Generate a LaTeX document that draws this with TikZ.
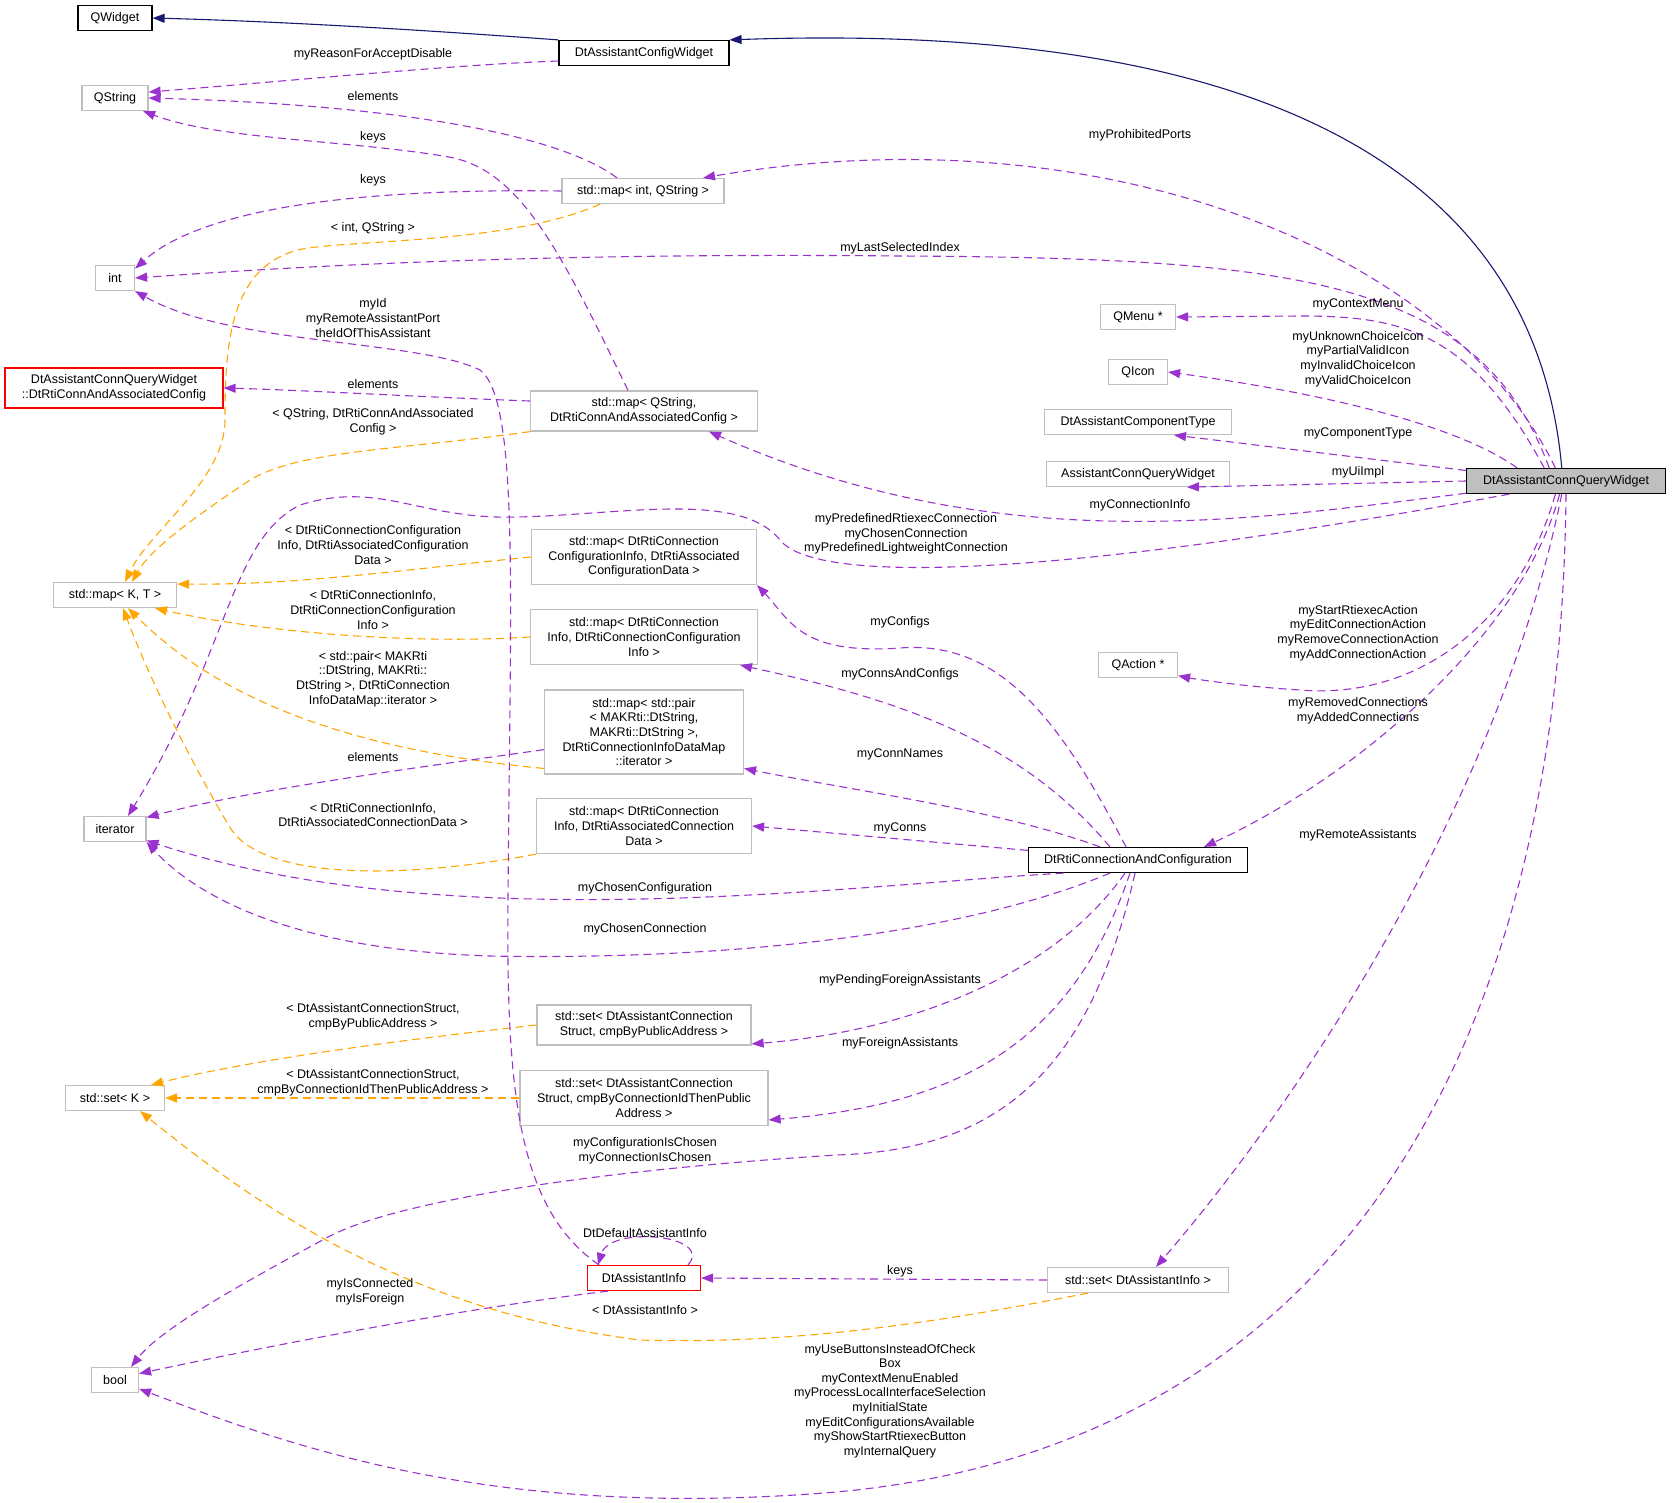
\documentclass[tikz,border=0pt]{standalone}
\usepackage{fontspec}
\setmainfont{Liberation Sans}
\usetikzlibrary{arrows.meta}
\definecolor{memcol}{RGB}{154,50,205}
\definecolor{tplcol}{RGB}{255,165,0}
\definecolor{inhcol}{RGB}{25,25,112}
\definecolor{boxgray}{RGB}{191,191,191}
\begin{document}
\begin{tikzpicture}[
    x=1pt,y=-1pt,
    >={Triangle[length=12pt,width=9pt]},
    every node/.style={font=\fontsize{12.5}{14.6}\selectfont},
    cls/.style={rectangle,draw=boxgray,line width=1.2pt,fill=white,inner sep=2pt,minimum height=25pt,align=center},
    doc/.style={cls,draw=black},
    bad/.style={cls,draw=red},
    lbl/.style={align=center,inner sep=0},
    mem/.style={->,draw=memcol,line width=1.1pt,dash pattern=on 8pt off 5pt},
    tpl/.style={->,draw=tplcol,line width=1.1pt,dash pattern=on 8pt off 5pt},
    inh/.style={->,draw=inhcol,line width=1.1pt}
    ]
    \useasboundingbox (0,0) rectangle (1672,1502);

    % classes
    \node[doc,minimum width=74pt] (qwidget) at (115,18) {QWidget};
    \node[doc,minimum width=170pt] (cfgwidget) at (644,53) {DtAssistantConfigWidget};
    \node[cls,minimum width=66pt] (qstring) at (115,98) {QString};
    \node[cls,minimum width=162pt] (mapint) at (643,191) {std::map< int, QString >};
    \node[cls,minimum width=39pt] (int) at (115,278) {int};
    \node[bad,minimum width=218pt,minimum height=40pt] (connassoc) at (114,388) {DtAssistantConnQueryWidget\\::DtRtiConnAndAssociatedConfig};
    \node[cls,minimum width=227pt,minimum height=40pt] (mapqs) at (644,411) {std::map< QString,\\DtRtiConnAndAssociatedConfig >};
    \node[cls,minimum width=123pt] (mapkt) at (115,595) {std::map< K, T >};
    \node[cls,minimum width=225pt,minimum height=55pt] (mapcfg) at (644,557) {std::map< DtRtiConnection\\ConfigurationInfo, DtRtiAssociated\\ConfigurationData >};
    \node[cls,minimum width=227pt,minimum height=55pt] (mapinfo) at (644,637) {std::map< DtRtiConnection\\Info, DtRtiConnectionConfiguration\\Info >};
    \node[cls,minimum width=199pt,minimum height=84pt] (mappair) at (644,732) {std::map< std::pair\\< MAKRti::DtString,\\MAKRti::DtString >,\\DtRtiConnectionInfoDataMap\\::iterator >};
    \node[cls,minimum width=215pt,minimum height=55pt] (mapconns) at (644,826) {std::map< DtRtiConnection\\Info, DtRtiAssociatedConnection\\Data >};
    \node[cls,minimum width=62pt] (iterator) at (115,829) {iterator};
    \node[cls,minimum width=214pt,minimum height=40pt] (setpub) at (644,1025) {std::set< DtAssistantConnection\\Struct, cmpByPublicAddress >};
    \node[cls,minimum width=99pt] (setk) at (115,1098) {std::set< K >};
    \node[cls,minimum width=248pt,minimum height=55pt] (setid) at (644,1098) {std::set< DtAssistantConnection\\Struct, cmpByConnectionIdThenPublic\\Address >};
    \node[bad,minimum width=113pt] (assist) at (644,1278) {DtAssistantInfo};
    \node[cls,minimum width=47pt] (bool) at (115,1380) {bool};
    \node[cls,minimum width=75pt] (qmenu) at (1138,317) {QMenu *};
    \node[cls,minimum width=59pt] (qicon) at (1138,372) {QIcon};
    \node[cls,minimum width=187pt] (comptype) at (1138,422) {DtAssistantComponentType};
    \node[cls,minimum width=183pt] (uiimpl) at (1138,474) {AssistantConnQueryWidget};
    \node[doc,fill=boxgray,minimum width=199pt] (main) at (1566,481) {DtAssistantConnQueryWidget};
    \node[cls,minimum width=79pt] (qaction) at (1138,665) {QAction *};
    \node[doc,minimum width=219pt] (rticonf) at (1138,860) {DtRtiConnectionAndConfiguration};
    \node[cls,minimum width=181pt] (setinfo) at (1138,1280) {std::set< DtAssistantInfo >};

    % inheritance
    \draw[inh] (main.108) .. controls (1530,110) and (1150,25) .. (cfgwidget.north east);
    \draw[inh] (cfgwidget.north west) .. controls (450,32) and (300,22) .. (qwidget.east);

    % members of the widget
    \draw[mem] ([yshift=-8pt]cfgwidget.west) .. controls (450,65) and (300,80) .. (qstring.10);
    \draw[mem] (main.129) .. controls (1450,250) and (1100,110) .. ([xshift=60pt]mapint.north);
    \draw[mem] (main.142) .. controls (1480,280) and (1300,258) .. (900,256) .. controls (500,252) and (250,270) .. (int.east);
    \draw[mem] (main.149) .. controls (1470,330) and (1400,316) .. (1300,316) -- (qmenu.east);
    \draw[mem] (main.165) .. controls (1450,420) and (1300,390) .. (qicon.east);
    \draw[mem] (main.174) -- (comptype.-20);
    \draw[mem] (main.180) -- (uiimpl.-15);
    \draw[mem] (main.187) .. controls (1250,520) and (1000,560) .. ([xshift=65pt]mapqs.south);
    \draw[mem] (main.193) .. controls (1100,570) and (820,590) .. (780,540) .. controls (740,490) and (620,515) .. (517,517) .. controls (420,520) and (380,480) .. (300,505) .. controls (230,540) and (230,650) .. ([xshift=13pt]iterator.north);
    \draw[mem] (main.231) .. controls (1520,620) and (1420,700) .. (1300,690) .. controls (1250,687) and (1200,680) .. (qaction.-15);
    \draw[mem] (main.244) .. controls (1520,640) and (1350,780) .. ([xshift=66pt]rticonf.north);
    \draw[mem] (main.252) .. controls (1500,800) and (1300,1100) .. ([xshift=18pt]setinfo.north);
    \draw[mem] (main.270) .. controls (1560,1100) and (1300,1450) .. (836,1492) .. controls (500,1520) and (300,1450) .. (bool.-20);

    % members of the maps
    \draw[mem] ([xshift=-26pt]mapint.north) .. controls (560,135) and (400,105) .. (qstring.east);
    \draw[mem] (mapint.west) .. controls (350,188) and (200,210) .. (int.25);
    \draw[tpl] ([xshift=-43pt]mapint.south) .. controls (520,240) and (380,240) .. (316,247) .. controls (230,255) and (225,340) .. (225,420) .. controls (225,480) and (150,530) .. ([xshift=10pt]mapkt.north);
    \draw[mem] ([xshift=-16pt]mapqs.north) .. controls (560,250) and (520,170) .. (449,157) .. controls (350,140) and (220,140) .. (qstring.-25);
    \draw[mem] (mapqs.175) .. controls (400,396) and (300,390) .. (connassoc.east);
    \draw[tpl] (mapqs.south west) .. controls (400,450) and (300,450) .. (250,480) .. controls (190,520) and (150,550) .. ([xshift=17pt]mapkt.north);
    \draw[tpl] (mapcfg.west) .. controls (400,570) and (300,585) .. (mapkt.10);
    \draw[tpl] (mapinfo.west) .. controls (400,645) and (250,630) .. ([xshift=40pt]mapkt.south);
    \draw[tpl] (mappair.200) .. controls (350,750) and (220,700) .. ([xshift=13pt]mapkt.south);
    \draw[mem] (mappair.190) .. controls (400,770) and (250,790) .. (iterator.20);
    \draw[tpl] (mapconns.south west) .. controls (400,880) and (260,880) .. (229,826) .. controls (190,760) and (150,680) .. ([xshift=8pt]mapkt.south);

    % members of the configuration
    \draw[mem] ([xshift=-12pt]rticonf.north) .. controls (1060,720) and (1000,640) .. (900,648) .. controls (800,655) and (790,620) .. (mapcfg.south east);
    \draw[mem] ([xshift=-28pt]rticonf.north) .. controls (1020,740) and (900,700) .. ([xshift=96pt]mapinfo.south);
    \draw[mem] ([xshift=-38pt]rticonf.north) .. controls (1000,810) and (850,790) .. (mappair.-20);
    \draw[mem] (rticonf.175) -- (mapconns.east);
    \draw[mem] (rticonf.190) .. controls (850,885) and (450,940) .. (iterator.-20);
    \draw[mem] ([xshift=-28pt]rticonf.south) .. controls (950,940) and (700,960) .. (490,956) .. controls (300,950) and (200,900) .. (iterator.south east);
    \draw[mem] ([xshift=-13pt]rticonf.south) .. controls (1050,980) and (900,1032) .. (setpub.-10);
    \draw[mem] ([xshift=-8pt]rticonf.south) .. controls (1070,1050) and (950,1105) .. (setid.-10);
    \draw[mem] ([xshift=-3pt]rticonf.south) .. controls (1090,1070) and (1000,1150) .. (836,1155) .. controls (600,1170) and (400,1200) .. (330,1236) .. controls (230,1290) and (160,1330) .. ([xshift=16pt]bool.north);

    % members of the sets
    \draw[tpl] (setpub.west) .. controls (400,1040) and (250,1060) .. (setk.20);
    \draw[tpl] (setid.west) -- (setk.east);
    \draw[mem] ([xshift=-45pt]assist.north) .. controls (520,1210) and (506,1100) .. (508,900) .. controls (510,600) and (520,400) .. (480,370) .. controls (420,340) and (230,345) .. (int.south east);
    \draw[mem] ([xshift=44pt]assist.north) .. controls (715,1235) and (610,1225) .. ([xshift=-46pt]assist.north);
    \draw[mem] (assist.200) .. controls (450,1310) and (250,1350) .. (bool.15);
    \draw[mem] (setinfo.west) -- (assist.east);
    \draw[tpl] ([xshift=-50pt]setinfo.south) .. controls (950,1320) and (800,1345) .. (640,1340) .. controls (400,1310) and (250,1200) .. ([xshift=25pt]setk.south);

    % edge labels
    \node[lbl] (l1) at (373,54) {myReasonForAcceptDisable};
    \node[lbl] (l2) at (373,96) {elements};
    \node[lbl] (l3) at (373,137) {keys};
    \node[lbl] (l4) at (373,180) {keys};
    \node[lbl] (l5) at (373,228) {< int, QString >};
    \node[lbl] (l6) at (373,318) {myId\\myRemoteAssistantPort\\theIdOfThisAssistant};
    \node[lbl] (l7) at (373,384) {elements};
    \node[lbl] (l8) at (373,422) {< QString, DtRtiConnAndAssociated\\Config >};
    \node[lbl] (l9) at (373,545) {< DtRtiConnectionConfiguration\\Info, DtRtiAssociatedConfiguration\\Data >};
    \node[lbl] (l10) at (373,610) {< DtRtiConnectionInfo,\\DtRtiConnectionConfiguration\\Info >};
    \node[lbl] (l11) at (373,679) {< std::pair< MAKRti\\::DtString, MAKRti::\\DtString >, DtRtiConnection\\InfoDataMap::iterator >};
    \node[lbl] (l12) at (373,757) {elements};
    \node[lbl] (l13) at (373,815) {< DtRtiConnectionInfo,\\DtRtiAssociatedConnectionData >};
    \node[lbl] (l14) at (645,888) {myChosenConfiguration};
    \node[lbl] (l15) at (645,929) {myChosenConnection};
    \node[lbl] (l16) at (373,1017) {< DtAssistantConnectionStruct,\\cmpByPublicAddress >};
    \node[lbl] (l17) at (373,1083) {< DtAssistantConnectionStruct,\\cmpByConnectionIdThenPublicAddress >};
    \node[lbl] (l18) at (645,1151) {myConfigurationIsChosen\\myConnectionIsChosen};
    \node[lbl] (l19) at (645,1233) {DtDefaultAssistantInfo};
    \node[lbl] (l20) at (370,1292) {myIsConnected\\myIsForeign};
    \node[lbl] (l21) at (645,1310) {< DtAssistantInfo >};
    \node[lbl] (l22) at (1140,135) {myProhibitedPorts};
    \node[lbl] (l23) at (900,248) {myLastSelectedIndex};
    \node[lbl] (l24) at (1358,304) {myContextMenu};
    \node[lbl] (l25) at (1358,359) {myUnknownChoiceIcon\\myPartialValidIcon\\myInvalidChoiceIcon\\myValidChoiceIcon};
    \node[lbl] (l26) at (1358,433) {myComponentType};
    \node[lbl] (l27) at (1358,472) {myUiImpl};
    \node[lbl] (l28) at (1140,505) {myConnectionInfo};
    \node[lbl] (l29) at (906,534) {myPredefinedRtiexecConnection\\myChosenConnection\\myPredefinedLightweightConnection};
    \node[lbl] (l30) at (1358,633) {myStartRtiexecAction\\myEditConnectionAction\\myRemoveConnectionAction\\myAddConnectionAction};
    \node[lbl] (l31) at (1358,711) {myRemovedConnections\\myAddedConnections};
    \node[lbl] (l32) at (1358,835) {myRemoteAssistants};
    \node[lbl] (l33) at (900,622) {myConfigs};
    \node[lbl] (l34) at (900,674) {myConnsAndConfigs};
    \node[lbl] (l35) at (900,754) {myConnNames};
    \node[lbl] (l36) at (900,828) {myConns};
    \node[lbl] (l37) at (900,980) {myPendingForeignAssistants};
    \node[lbl] (l38) at (900,1043) {myForeignAssistants};
    \node[lbl] (l39) at (900,1271) {keys};
    \node[lbl] (l40) at (890,1401) {myUseButtonsInsteadOfCheck\\Box\\myContextMenuEnabled\\myProcessLocalInterfaceSelection\\myInitialState\\myEditConfigurationsAvailable\\myShowStartRtiexecButton\\myInternalQuery};
  \end{tikzpicture}
\end{document}
